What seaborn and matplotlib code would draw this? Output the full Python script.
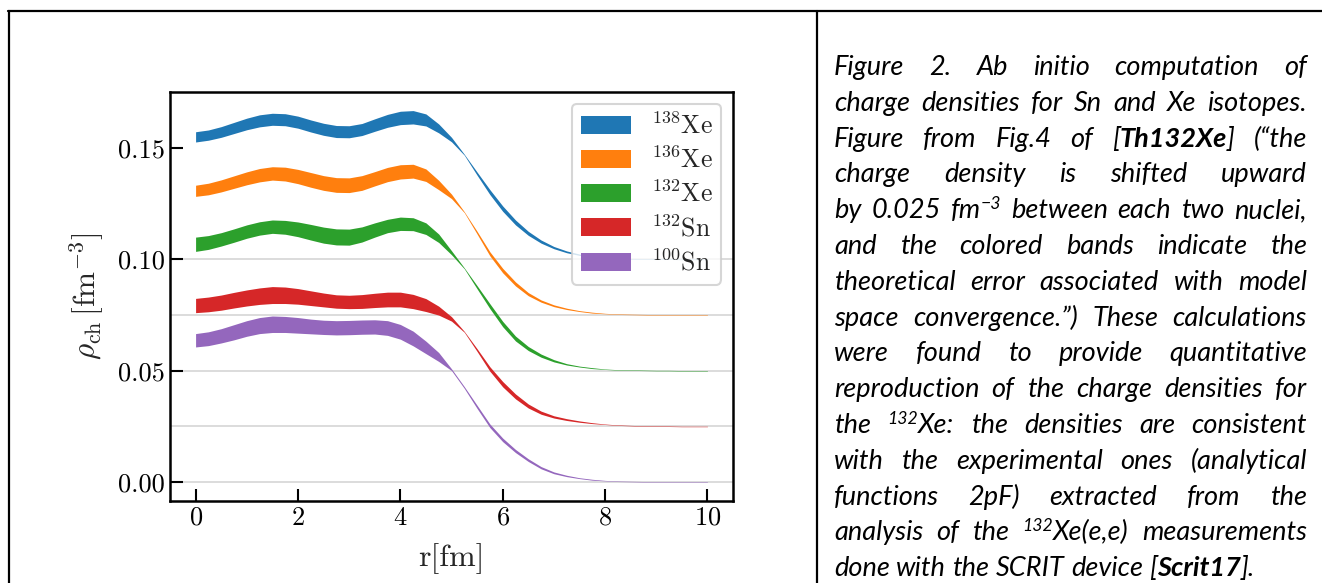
import re

import matplotlib
matplotlib.use("Agg")
import matplotlib.pyplot as plt
import numpy as np
import pandas as pd
import seaborn as sns
from matplotlib import font_manager
from matplotlib.font_manager import FontProperties
from matplotlib.lines import Line2D
from matplotlib.patches import Patch

# ---- data (unshifted densities, fm^-3) ----
R_FM = np.arange(0, 10.01, 0.25)

NUCLEI = [r"$^{138}$Xe", r"$^{136}$Xe", r"$^{132}$Xe", r"$^{132}$Sn", r"$^{100}$Sn"]
SHIFTS = [0.100, 0.075, 0.050, 0.025, 0.000]

XE138_MID = [0.0550, 0.0558, 0.0572, 0.0590, 0.0608, 0.0622, 0.0629, 0.0627, 0.0616, 0.0599,
             0.0584, 0.0574, 0.0573, 0.0583, 0.0603, 0.0622, 0.0635, 0.0638, 0.0626, 0.0588,
             0.0538, 0.0470, 0.0385, 0.0302, 0.0228, 0.0166, 0.0117, 0.0080, 0.0053, 0.0034,
             0.0021, 0.0013, 0.0008, 0.0005, 0.0003, 0.0002, 0.0001, 0.0001, 0.0, 0.0, 0.0]
XE138_ERR = [0.0023, 0.0023, 0.0024, 0.0025, 0.0026, 0.0027, 0.0027, 0.0027, 0.0027, 0.0027,
             0.0027, 0.0027, 0.0027, 0.0027, 0.0028, 0.0029, 0.0030, 0.0030, 0.0027, 0.0020,
             0.0010, 0.0002, 0.0007, 0.0011, 0.0012, 0.0011, 0.0009, 0.0007, 0.0005, 0.0004,
             0.0003, 0.0002, 0.0001, 0.0001, 0.0001, 0.0001, 0.0001, 0.0001, 0.0001, 0.0001, 0.0001]

XE136_MID = [0.0558, 0.0566, 0.0580, 0.0597, 0.0614, 0.0628, 0.0636, 0.0633, 0.0622, 0.0607,
             0.0593, 0.0584, 0.0583, 0.0593, 0.0612, 0.0631, 0.0643, 0.0646, 0.0628, 0.0584,
             0.0533, 0.0462, 0.0370, 0.0275, 0.0200, 0.0140, 0.0094, 0.0063, 0.0042, 0.0028,
             0.0018, 0.0011, 0.0007, 0.0004, 0.0003, 0.0002, 0.0001, 0.0001, 0.0, 0.0, 0.0]
XE136_ERR = [0.0025, 0.0026, 0.0027, 0.0028, 0.0029, 0.0030, 0.0030, 0.0031, 0.0032, 0.0033,
             0.0033, 0.0033, 0.0033, 0.0033, 0.0032, 0.0032, 0.0032, 0.0031, 0.0028, 0.0021,
             0.0010, 0.0002, 0.0006, 0.0009, 0.0010, 0.0009, 0.0007, 0.0005, 0.0004, 0.0003,
             0.0002, 0.0002, 0.0001, 0.0001, 0.0001, 0.0001, 0.0001, 0.0001, 0.0001, 0.0001, 0.0001]

XE132_MID = [0.0568, 0.0576, 0.0590, 0.0607, 0.0625, 0.0639, 0.0647, 0.0644, 0.0635, 0.0622,
             0.0609, 0.0601, 0.0600, 0.0612, 0.0632, 0.0650, 0.0660, 0.0658, 0.0638, 0.0595,
             0.0530, 0.0460, 0.0375, 0.0290, 0.0210, 0.0145, 0.0100, 0.0068, 0.0045, 0.0029,
             0.0019, 0.0012, 0.0007, 0.0004, 0.0003, 0.0002, 0.0001, 0.0001, 0.0, 0.0, 0.0]
XE132_ERR = [0.0032, 0.0031, 0.0030, 0.0030, 0.0030, 0.0030, 0.0030, 0.0031, 0.0033, 0.0035,
             0.0036, 0.0036, 0.0036, 0.0034, 0.0032, 0.0030, 0.0030, 0.0029, 0.0026, 0.0019,
             0.0009, 0.0002, 0.0007, 0.0011, 0.0012, 0.0011, 0.0009, 0.0007, 0.0005, 0.0003,
             0.0002, 0.0002, 0.0001, 0.0001, 0.0001, 0.0001, 0.0001, 0.0001, 0.0001, 0.0001, 0.0001]

SN132_MID = [0.0543, 0.0548, 0.0556, 0.0567, 0.0577, 0.0585, 0.0590, 0.0589, 0.0584, 0.0576,
             0.0568, 0.0561, 0.0559, 0.0561, 0.0566, 0.0570, 0.0570, 0.0561, 0.0545, 0.0520,
             0.0483, 0.0425, 0.0343, 0.0258, 0.0190, 0.0135, 0.0092, 0.0062, 0.0043, 0.0031,
             0.0022, 0.0015, 0.0010, 0.0006, 0.0004, 0.0002, 0.0001, 0.0001, 0.0, 0.0, 0.0]
SN132_ERR = [0.0032, 0.0033, 0.0034, 0.0035, 0.0036, 0.0037, 0.0038, 0.0037, 0.0035, 0.0033,
             0.0031, 0.0030, 0.0030, 0.0031, 0.0032, 0.0033, 0.0033, 0.0032, 0.0029, 0.0020,
             0.0010, 0.0002, 0.0006, 0.0010, 0.0012, 0.0011, 0.0009, 0.0007, 0.0005, 0.0004,
             0.0003, 0.0002, 0.0001, 0.0001, 0.0001, 0.0001, 0.0001, 0.0001, 0.0001, 0.0001, 0.0001]

SN100_MID = [0.0637, 0.0644, 0.0657, 0.0673, 0.0690, 0.0703, 0.0709, 0.0708, 0.0704, 0.0699,
             0.0695, 0.0693, 0.0694, 0.0696, 0.0697, 0.0692, 0.0675, 0.0645, 0.0605, 0.0562,
             0.0505, 0.0425, 0.0338, 0.0253, 0.0190, 0.0140, 0.0099, 0.0065, 0.0042, 0.0028,
             0.0018, 0.0011, 0.0007, 0.0004, 0.0003, 0.0002, 0.0001, 0.0001, 0.0, 0.0, 0.0]
SN100_ERR = [0.0030, 0.0031, 0.0032, 0.0034, 0.0035, 0.0036, 0.0037, 0.0036, 0.0035, 0.0033,
             0.0032, 0.0032, 0.0032, 0.0032, 0.0032, 0.0033, 0.0033, 0.0033, 0.0028, 0.0020,
             0.0004, 0.0004, 0.0007, 0.0008, 0.0008, 0.0007, 0.0006, 0.0005, 0.0004, 0.0003,
             0.0002, 0.0002, 0.0001, 0.0001, 0.0001, 0.0001, 0.0001, 0.0001, 0.0001, 0.0001, 0.0001]

MIDS = [XE138_MID, XE136_MID, XE132_MID, SN132_MID, SN100_MID]
ERRS = [XE138_ERR, XE136_ERR, XE132_ERR, SN132_ERR, SN100_ERR]

Y_TICKS = [0.00, 0.05, 0.10, 0.15]
X_TICKS = [0, 2, 4, 6, 8, 10]

CAPTION_LINES = [
    "Figure 2. Ab initio computation of",
    "charge densities for Sn and Xe isotopes.",
    "Figure from Fig.4 of [*Th132Xe*] (\u201cthe",
    "charge density is shifted upward",
    "by 0.025 fm^{\u22123} between each two nuclei,",
    "and the colored bands indicate the",
    "theoretical error associated with model",
    "space convergence.\u201d) These calculations",
    "were found to provide quantitative",
    "reproduction of the charge densities for",
    "the ^{132}Xe: the densities are consistent",
    "with the experimental ones (analytical",
    "functions 2pF) extracted from the",
    "analysis of the ^{132}Xe(e,e) measurements",
    "done with the SCRIT device [*Scrit17*].",
]

# ---- layout ----
W_PX, H_PX, DPI = 1322, 583, 100


def fx(px):
    return px / W_PX


def fy(py):
    return 1 - py / H_PX


sns.set_theme(
    style="ticks",
    rc={
        "xtick.direction": "in",
        "ytick.direction": "in",
        "xtick.major.size": 9,
        "ytick.major.size": 9,
        "xtick.major.width": 1.5,
        "ytick.major.width": 1.5,
        "axes.edgecolor": "black",
        "axes.linewidth": 1.8,
        "xtick.color": "black",
        "ytick.color": "black",
    },
)
plt.rcParams["font.family"] = "serif"
plt.rcParams["font.serif"] = ["cmr10"]
plt.rcParams["mathtext.fontset"] = "cm"
plt.rcParams["axes.formatter.use_mathtext"] = True

colors = sns.color_palette("tab10", 5)

fig = plt.figure(figsize=(W_PX / DPI, H_PX / DPI), dpi=DPI)
fig.patch.set_facecolor("white")
ax = fig.add_axes([fx(170), fy(501), fx(733) - fx(170), (501 - 92) / H_PX])

rows = []
for name, shift, mid, err in zip(NUCLEI, SHIFTS, MIDS, ERRS):
    mid = np.asarray(mid) + shift
    err = np.asarray(err)
    for r, lo, hi in zip(R_FM, mid - err, mid + err):
        rows.append({"r": r, "rho": lo, "nucleus": name})
        rows.append({"r": r, "rho": hi, "nucleus": name})
df = pd.DataFrame(rows)

for shift in SHIFTS:
    ax.axhline(shift, color="#d9d9d9", lw=1.3, zorder=0.5)

sns.lineplot(
    data=df, x="r", y="rho", hue="nucleus", hue_order=NUCLEI, palette=colors,
    estimator="mean", errorbar=lambda v: (v.min(), v.max()),
    err_kws={"alpha": 1, "linewidth": 0}, linewidth=0, legend=False, ax=ax,
)

ax.set_xticks(X_TICKS)
ax.set_yticks(Y_TICKS)
ax.set_yticklabels([f"{v:.2f}" for v in Y_TICKS])
ax.tick_params(labelsize=19, top=False, right=False)
ax.set_xlabel("r[fm]", fontsize=23, labelpad=10)
ax.set_ylabel(r"$\rho_{\rm ch}\,[{\rm fm}^{-3}]$", fontsize=22.5, labelpad=8)
for sp in ax.spines.values():
    sp.set_visible(True)
    sp.set_color("black")

handles = [Patch(facecolor=c, edgecolor="none") for c in colors]
leg = ax.legend(
    handles, NUCLEI, loc="upper right", fontsize=18.5, handlelength=1.95,
    handleheight=0.7, handletextpad=0.75, labelspacing=0.3, borderaxespad=0.45,
    borderpad=0.35, framealpha=0.8, edgecolor="#cccccc", fancybox=True,
)
leg.get_frame().set_linewidth(1.5)

# ---- table borders ----
for xs, ys in [((8, W_PX), (11, 11)), ((9, 9), (11, H_PX)), ((817, 817), (11, H_PX))]:
    fig.add_artist(Line2D([fx(x) for x in xs], [fy(y) for y in ys],
                          transform=fig.transFigure, color="black", lw=1.6))

# ---- justified caption ----
def pick_family():
    for fam in ["Lato", "Open Sans", "Noto Sans", "Roboto"]:
        if any(f.name == fam and f.style == "italic" for f in font_manager.fontManager.ttflist):
            return fam
    return "DejaVu Sans"


CAP_FAMILY = pick_family()
renderer = fig.canvas.get_renderer()


def parse_word(word):
    pieces = []
    for tok in re.split(r"(\^\{[^}]*\}|\*[^*]+\*)", word):
        if not tok:
            continue
        if tok.startswith("^{"):
            pieces.append((tok[2:-1], "sup"))
        elif tok.startswith("*"):
            pieces.append((tok[1:-1], "bold"))
        else:
            pieces.append((tok, "normal"))
    return pieces


def prop_for(kind, size):
    if kind == "sup":
        return FontProperties(family=CAP_FAMILY, style="italic", size=size * 0.65)
    if kind == "bold":
        return FontProperties(family=CAP_FAMILY, style="italic", weight="bold", size=size)
    return FontProperties(family=CAP_FAMILY, style="italic", size=size)


def text_w(s, prop):
    return renderer.get_text_width_height_descent(s, prop, ismath=False)[0]


def word_w(pieces, size):
    return sum(text_w(t, prop_for(k, size)) for t, k in pieces)


def space_w(size):
    p = prop_for("normal", size)
    return text_w("a a", p) - text_w("aa", p)


LEFT, RIGHT, BASE0, STEP = 834, 1307, 75, 35.8
words_by_line = [[parse_word(w) for w in line.split()] for line in CAPTION_LINES]

# largest size at which every justified line still fits with slightly tight spaces
size = 19.5
natural = max(sum(word_w(ws, size) for ws in line) + 0.7 * space_w(size) * (len(line) - 1)
              for line in words_by_line[:-1])
if natural > (RIGHT - LEFT):
    size *= (RIGHT - LEFT) / natural * 0.995

for i, line in enumerate(words_by_line):
    widths = [word_w(ws, size) for ws in line]
    last = i == len(words_by_line) - 1
    gap = space_w(size) if last else (RIGHT - LEFT - sum(widths)) / (len(line) - 1)
    x = LEFT
    base = BASE0 + i * STEP
    for ws, w in zip(line, widths):
        px = x
        for t, k in ws:
            prop = prop_for(k, size)
            lift = size * DPI / 72 * 0.33 if k == "sup" else 0
            fig.text(fx(px), fy(base - lift), t, fontproperties=prop,
                     ha="left", va="baseline", color="black")
            px += text_w(t, prop)
        x += w + gap

fig.savefig("out.png", dpi=DPI, facecolor="white")
